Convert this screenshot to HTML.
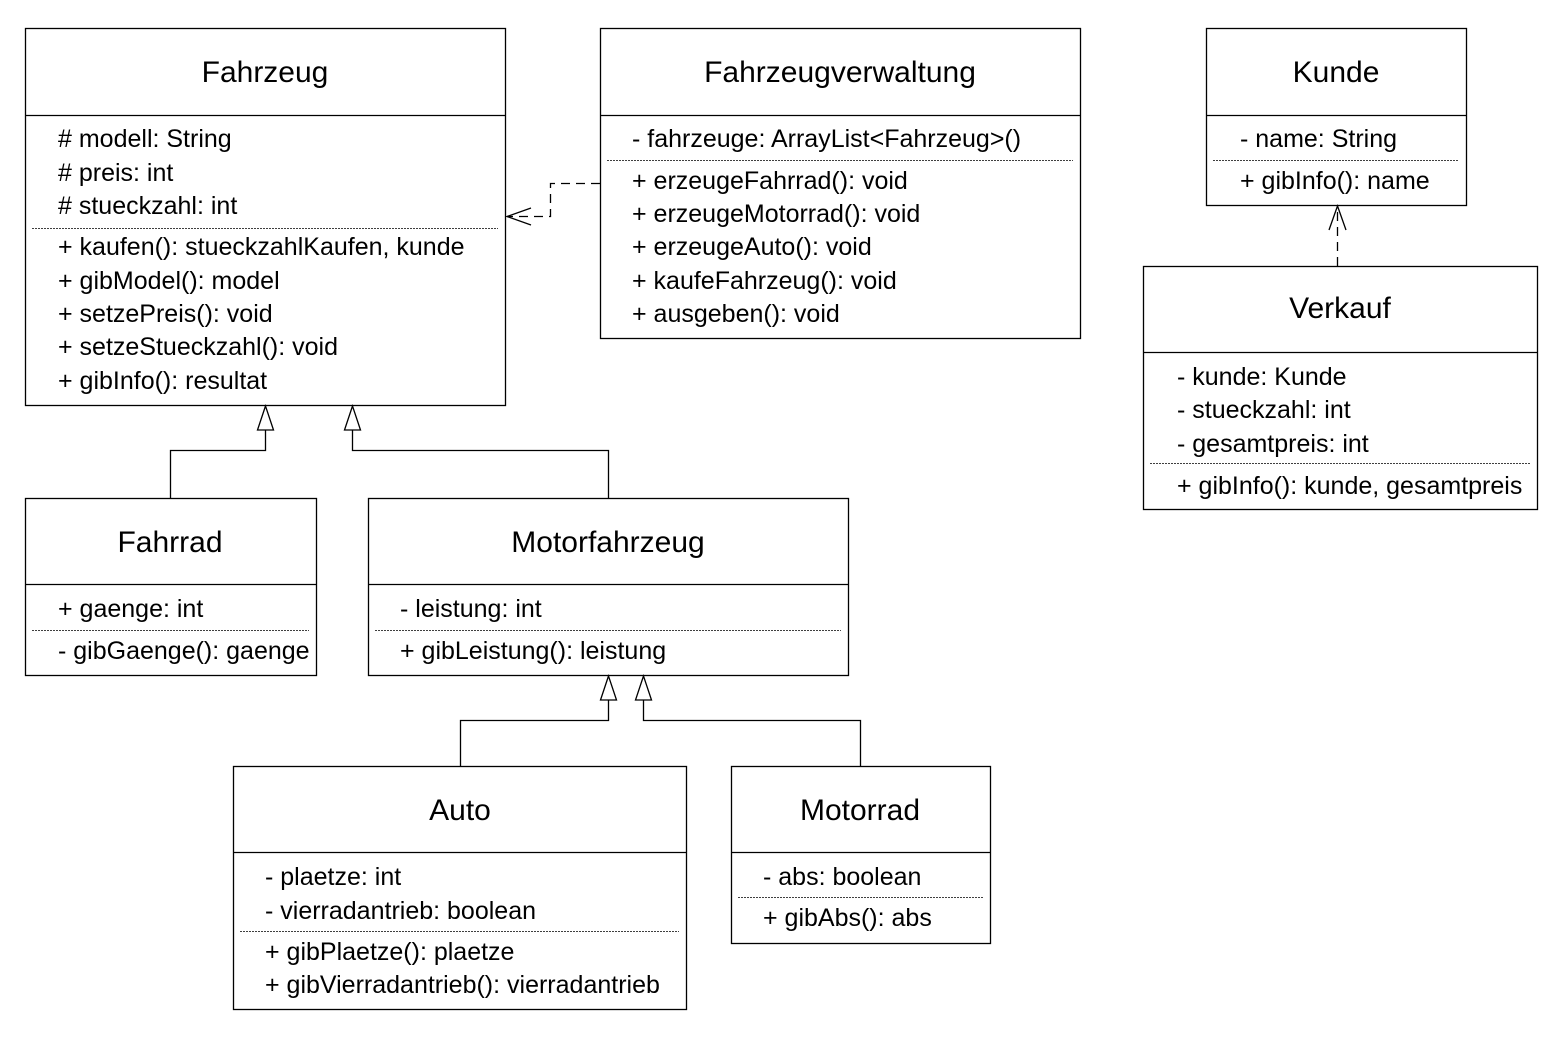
<!DOCTYPE html>
<html><head><meta charset="utf-8"><style>
html,body{margin:0;padding:0;background:#fff;}
svg{display:block}
text{font-family:"Liberation Sans",sans-serif;fill:#000;}
.t{font-size:30px;text-anchor:middle}
.a{font-size:25px}
</style></head><body>
<svg width="1555" height="1038" viewBox="0 0 1555 1038" xmlns="http://www.w3.org/2000/svg">
<g fill="none" stroke="#000" stroke-width="1.3">
<rect x="25.5" y="28.5" width="480" height="377"/><line x1="25" y1="115.5" x2="505" y2="115.5"/>
<rect x="600.5" y="28.5" width="480" height="310"/><line x1="600" y1="115.5" x2="1080" y2="115.5"/>
<rect x="1206.5" y="28.5" width="260" height="177"/><line x1="1206" y1="115.5" x2="1466" y2="115.5"/>
<rect x="1143.5" y="266.5" width="394" height="243"/><line x1="1143" y1="352.5" x2="1537" y2="352.5"/>
<rect x="25.5" y="498.5" width="291" height="177"/><line x1="25" y1="584.5" x2="316" y2="584.5"/>
<rect x="368.5" y="498.5" width="480" height="177"/><line x1="368" y1="584.5" x2="848" y2="584.5"/>
<rect x="233.5" y="766.5" width="453" height="243"/><line x1="233" y1="852.5" x2="686" y2="852.5"/>
<rect x="731.5" y="766.5" width="259" height="177"/><line x1="731" y1="852.5" x2="990" y2="852.5"/>
</g>
<g stroke="#000" stroke-width="0.8" stroke-dasharray="2,1">
<line x1="32" y1="228.5" x2="498" y2="228.5"/>
<line x1="607" y1="160.5" x2="1073" y2="160.5"/>
<line x1="1213" y1="160.5" x2="1459" y2="160.5"/>
<line x1="1150" y1="463.5" x2="1530" y2="463.5"/>
<line x1="32" y1="630.5" x2="309" y2="630.5"/>
<line x1="375" y1="630.5" x2="841" y2="630.5"/>
<line x1="240" y1="931.5" x2="679" y2="931.5"/>
<line x1="738" y1="897.5" x2="983" y2="897.5"/>
</g>
<g fill="none" stroke="#000" stroke-width="1.3">
<polyline points="170.5,498 170.5,450.5 265.5,450.5 265.5,430"/>
<polygon points="265.5,406 257.5,430 273.5,430" fill="#fff"/>
<polyline points="608.5,498 608.5,450.5 352.5,450.5 352.5,430"/>
<polygon points="352.5,406 344.5,430 360.5,430" fill="#fff"/>
<polyline points="460.5,766 460.5,720.5 608.5,720.5 608.5,700"/>
<polygon points="608.5,676 600.5,700 616.5,700" fill="#fff"/>
<polyline points="860.5,766 860.5,720.5 643.5,720.5 643.5,700"/>
<polygon points="643.5,676 635.5,700 651.5,700" fill="#fff"/>
</g>
<g fill="none" stroke="#000" stroke-width="1.3">
<polyline points="600,183.5 550.5,183.5 550.5,216.5 507,216.5" stroke-dasharray="9,6"/>
<polyline points="531,208 507,216.5 531,225"/>
<line x1="1337.5" y1="266" x2="1337.5" y2="207" stroke-dasharray="9,6"/>
<polyline points="1329,230 1337.5,206 1346,230"/>
</g>
<text class="t" x="265" y="82">Fahrzeug</text>
<text class="a" x="58" y="147"># modell: String</text>
<text class="a" x="58" y="181"># preis: int</text>
<text class="a" x="58" y="214"># stueckzahl: int</text>
<text class="a" x="58" y="255">+ kaufen(): stueckzahlKaufen, kunde</text>
<text class="a" x="58" y="289">+ gibModel(): model</text>
<text class="a" x="58" y="322">+ setzePreis(): void</text>
<text class="a" x="58" y="355">+ setzeStueckzahl(): void</text>
<text class="a" x="58" y="389">+ gibInfo(): resultat</text>

<text class="t" x="840" y="82">Fahrzeugverwaltung</text>
<text class="a" x="632" y="147">- fahrzeuge: ArrayList&lt;Fahrzeug&gt;()</text>
<text class="a" x="632" y="189">+ erzeugeFahrrad(): void</text>
<text class="a" x="632" y="222">+ erzeugeMotorrad(): void</text>
<text class="a" x="632" y="255">+ erzeugeAuto(): void</text>
<text class="a" x="632" y="289">+ kaufeFahrzeug(): void</text>
<text class="a" x="632" y="322">+ ausgeben(): void</text>

<text class="t" x="1336" y="82">Kunde</text>
<text class="a" x="1240" y="147">- name: String</text>
<text class="a" x="1240" y="189">+ gibInfo(): name</text>

<text class="t" x="1340" y="318">Verkauf</text>
<text class="a" x="1177" y="385">- kunde: Kunde</text>
<text class="a" x="1177" y="418">- stueckzahl: int</text>
<text class="a" x="1177" y="452">- gesamtpreis: int</text>
<text class="a" x="1177" y="494">+ gibInfo(): kunde, gesamtpreis</text>

<text class="t" x="170" y="552">Fahrrad</text>
<text class="a" x="58" y="617">+ gaenge: int</text>
<text class="a" x="58" y="659">- gibGaenge(): gaenge</text>

<text class="t" x="608" y="552">Motorfahrzeug</text>
<text class="a" x="400" y="617">- leistung: int</text>
<text class="a" x="400" y="659">+ gibLeistung(): leistung</text>

<text class="t" x="460" y="820">Auto</text>
<text class="a" x="265" y="885">- plaetze: int</text>
<text class="a" x="265" y="919">- vierradantrieb: boolean</text>
<text class="a" x="265" y="960">+ gibPlaetze(): plaetze</text>
<text class="a" x="265" y="993">+ gibVierradantrieb(): vierradantrieb</text>

<text class="t" x="860" y="820">Motorrad</text>
<text class="a" x="763" y="885">- abs: boolean</text>
<text class="a" x="763" y="926">+ gibAbs(): abs</text>
</svg>
</body></html>
